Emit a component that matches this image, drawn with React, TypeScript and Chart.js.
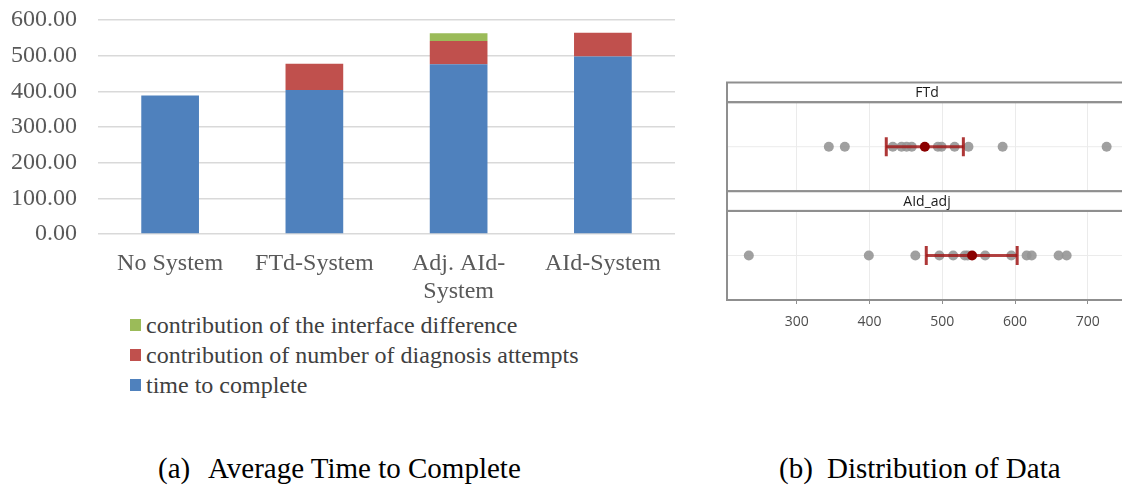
import React, { useEffect, useRef } from "react";
import { Chart, registerables } from "chart.js";

Chart.register(...registerables);

// ---------- (a) Average Time to Complete ----------
const categories = ["No System", "FTd-System", "Adj. AId-System", "AId-System"];
const categoryTickLabels = [["No System"], ["FTd-System"], ["Adj. AId-", "System"], ["AId-System"]];
const timeToComplete = [388, 404, 476, 498];
const diagnosisAttempts = [0, 73, 65, 66];
const interfaceDifference = [0, 0, 22, 0];
const seriesNames = [
  "time to complete",
  "contribution of number of diagnosis attempts",
  "contribution of the interface difference",
];
const seriesColors = ["#4F81BD", "#C0504D", "#9BBB59"];
const yTicks = [0, 100, 200, 300, 400, 500, 600];

// ---------- (b) Distribution of Data ----------
const facetNames = ["FTd", "AId_adj"];
const facetRows = [1, 0];
const ftdValues = [344, 366, 432, 444, 451, 458, 494, 499, 517, 536, 583, 726];
const aidAdjValues = [234, 399, 463, 496, 515, 531, 535, 559, 595, 616, 623, 660, 671];
const facetMeans = [476, 541];
const facetLow = [423, 478];
const facetHigh = [529, 603];
const xTicks = [300, 400, 500, 600, 700];
const xLimits = [204, 754];

const SERIF = "'Liberation Serif', 'Times New Roman', serif";
const SANS = "'Open Sans', 'Noto Sans', sans-serif";

const STRIP_HALF_LOW = 0.4095;
const STRIP_HALF_HIGH = 0.5905;

const facetPlugin = {
  id: "facetStrips",
  beforeDatasetsDraw(chart: any) {
    const { ctx, chartArea: a, scales } = chart;
    const y = scales.y;
    const w = a.right - a.left;
    ctx.save();
    facetNames.forEach((name, i) => {
      const r = facetRows[i];
      const rowY = y.getPixelForValue(r);
      const bandTop = y.getPixelForValue(r + STRIP_HALF_HIGH);
      const stripBottom = y.getPixelForValue(r + STRIP_HALF_LOW);
      const bandBottom = y.getPixelForValue(r - STRIP_HALF_LOW);
      ctx.strokeStyle = "#ebebeb";
      ctx.lineWidth = 1;
      ctx.beginPath();
      ctx.moveTo(a.left, rowY);
      ctx.lineTo(a.right, rowY);
      ctx.stroke();
      ctx.fillStyle = "#ffffff";
      ctx.fillRect(a.left, bandTop, w, stripBottom - bandTop);
      ctx.strokeStyle = "#8f8f8f";
      ctx.lineWidth = 2;
      ctx.strokeRect(a.left, bandTop, w, stripBottom - bandTop);
      ctx.strokeRect(a.left, stripBottom, w, bandBottom - stripBottom);
      ctx.fillStyle = "#1a1a1a";
      ctx.font = `14px ${SANS}`;
      ctx.textAlign = "center";
      ctx.textBaseline = "middle";
      ctx.fillText(name, (a.left + a.right) / 2, (bandTop + stripBottom) / 2 + 1);
    });
    ctx.restore();
  },
};

export default function App() {
  const barRef = useRef<HTMLCanvasElement>(null);
  const dotRef = useRef<HTMLCanvasElement>(null);

  useEffect(() => {
    const barChart = new Chart(barRef.current as HTMLCanvasElement, {
      type: "bar",
      data: {
        labels: categoryTickLabels as any,
        datasets: [
          { label: seriesNames[0], data: timeToComplete, backgroundColor: seriesColors[0] },
          { label: seriesNames[1], data: diagnosisAttempts, backgroundColor: seriesColors[1] },
          { label: seriesNames[2], data: interfaceDifference, backgroundColor: seriesColors[2] },
        ].map((d) => ({ ...d, categoryPercentage: 1, barPercentage: 0.4, borderWidth: 0 })),
      },
      options: {
        responsive: false,
        animation: false,
        layout: { padding: { top: 20, right: 25, left: 0, bottom: 0 } },
        plugins: { legend: { display: false }, tooltip: { enabled: false } },
        scales: {
          x: {
            stacked: true,
            grid: { display: false },
            border: { display: false },
            ticks: {
              color: "#595959",
              font: { family: SERIF, size: 24, lineHeight: 1.2 },
              maxRotation: 0,
              autoSkip: false,
              padding: 7,
            },
            afterFit: (s: any) => {
              s.height = 76;
            },
          },
          y: {
            stacked: true,
            min: 0,
            max: 600,
            afterBuildTicks: (s: any) => {
              s.ticks = yTicks.map((v) => ({ value: v }));
            },
            grid: { color: "#d9d9d9", lineWidth: 1.6, drawTicks: false },
            border: { display: false },
            ticks: {
              color: "#595959",
              font: { family: SERIF, size: 24 },
              padding: 21,
              callback: (v: any) => Number(v).toFixed(2),
            },
            afterFit: (s: any) => {
              s.width = 98;
              s.paddingTop = 12;
              s.paddingBottom = 12;
            },
          },
        },
      },
    });

    const rowData = (vals: number[], r: number) => vals.map((v) => ({ x: v, y: r }));
    const dotChart = new Chart(dotRef.current as HTMLCanvasElement, {
      type: "scatter",
      data: {
        datasets: [
          {
            label: "mean",
            data: facetMeans.map((m, i) => ({ x: m, y: facetRows[i] })),
            pointRadius: 5,
            pointBackgroundColor: "#8b0000",
            pointBorderColor: "#8b0000",
            borderWidth: 0,
          },
          ...facetRows.map((r, i) => ({
            label: "interval " + facetNames[i],
            data: [
              { x: facetLow[i], y: r },
              { x: facetHigh[i], y: r },
            ],
            showLine: true,
            borderColor: "rgba(160,20,20,0.8)",
            borderWidth: 3,
            pointStyle: "line" as const,
            pointRotation: 90,
            pointRadius: 9.5,
            pointBorderWidth: 3,
            pointBorderColor: "rgba(160,20,20,0.85)",
          })),
          {
            label: "FTd",
            data: rowData(ftdValues, facetRows[0]),
            pointRadius: 5,
            pointBackgroundColor: "rgba(150,150,150,0.9)",
            pointBorderWidth: 0,
          },
          {
            label: "AId_adj",
            data: rowData(aidAdjValues, facetRows[1]),
            pointRadius: 5,
            pointBackgroundColor: "rgba(150,150,150,0.9)",
            pointBorderWidth: 0,
          },
        ],
      },
      options: {
        responsive: false,
        animation: false,
        layout: { padding: { left: 27, top: 9, right: 13, bottom: 0 } },
        plugins: { legend: { display: false }, tooltip: { enabled: false } },
        scales: {
          x: {
            type: "linear",
            min: xLimits[0],
            max: xLimits[1],
            afterBuildTicks: (s: any) => {
              s.ticks = xTicks.map((v) => ({ value: v }));
            },
            grid: { color: "#ebebeb", lineWidth: 1, tickColor: "#8f8f8f", tickLength: 4, tickWidth: 1 },
            border: { display: false },
            ticks: { color: "#4d4d4d", font: { family: SANS, size: 14 }, padding: 10 },
            afterFit: (s: any) => {
              s.height = 35;
            },
          },
          y: {
            type: "linear",
            display: false,
            min: facetRows[1] - STRIP_HALF_LOW,
            max: facetRows[0] + STRIP_HALF_HIGH,
          },
        },
      },
      plugins: [facetPlugin],
    });

    return () => {
      barChart.destroy();
      dotChart.destroy();
    };
  }, []);

  const legendOrder = [2, 1, 0];
  const legendY = [325, 355, 385];

  return (
    <div
      style={{
        position: "absolute",
        left: 0,
        top: 0,
        width: 1122,
        height: 487,
        overflow: "hidden",
        background: "#ffffff",
      }}
    >
      <canvas ref={barRef} width={700} height={310} style={{ position: "absolute", left: 0, top: 0 }} />
      <canvas ref={dotRef} width={440} height={265} style={{ position: "absolute", left: 700, top: 70 }} />
      {legendOrder.map((si, k) => (
        <React.Fragment key={si}>
          <div
            style={{
              position: "absolute",
              left: 130,
              top: legendY[k] - 6,
              width: 11,
              height: 12,
              background: seriesColors[si],
            }}
          />
          <div
            style={{
              position: "absolute",
              left: 146,
              top: legendY[k] - 15,
              height: 30,
              lineHeight: "30px",
              fontFamily: SERIF,
              fontSize: 24,
              color: "#404040",
              whiteSpace: "nowrap",
            }}
          >
            {seriesNames[si]}
          </div>
        </React.Fragment>
      ))}
      {[
        { left: 158, text: "(a)" },
        { left: 208, text: "Average Time to Complete" },
        { left: 779, text: "(b)" },
        { left: 827, text: "Distribution of Data" },
      ].map((c) => (
        <div
          key={c.text}
          style={{
            position: "absolute",
            left: c.left,
            top: 468 - 18,
            height: 36,
            lineHeight: "36px",
            fontFamily: SERIF,
            fontSize: 29,
            color: "#000000",
            whiteSpace: "nowrap",
          }}
        >
          {c.text}
        </div>
      ))}
    </div>
  );
}
